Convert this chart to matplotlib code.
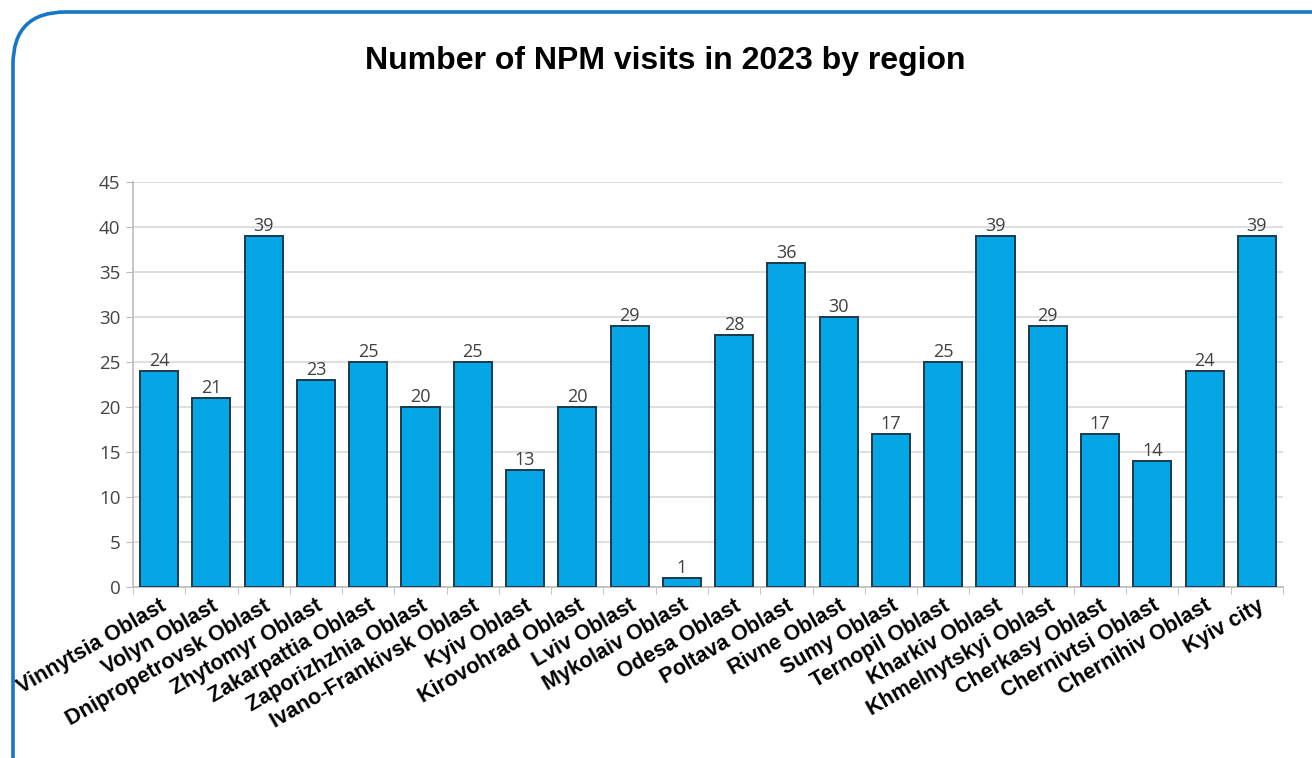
import matplotlib.pyplot as plt
import numpy as np
from matplotlib.patches import FancyBboxPatch

REGIONS = [
    "Vinnytsia Oblast", "Volyn Oblast", "Dnipropetrovsk Oblast", "Zhytomyr Oblast",
    "Zakarpattia Oblast", "Zaporizhzhia Oblast", "Ivano-Frankivsk Oblast", "Kyiv Oblast",
    "Kirovohrad Oblast", "Lviv Oblast", "Mykolaiv Oblast", "Odesa Oblast",
    "Poltava Oblast", "Rivne Oblast", "Sumy Oblast", "Ternopil Oblast",
    "Kharkiv Oblast", "Khmelnytskyi Oblast", "Cherkasy Oblast", "Chernivtsi Oblast",
    "Chernihiv Oblast", "Kyiv city",
]
VISITS = [24, 21, 39, 23, 25, 20, 25, 13, 20, 29, 1, 28, 36, 30, 17, 25, 39, 29, 17, 14, 24, 39]
Y_TICKS = [0, 5, 10, 15, 20, 25, 30, 35, 40, 45]

TITLE = "Number of NPM visits in 2023 by region"
BAR_COLOR = "#04a6e6"
EDGE_COLOR = "#1c3a4c"
FRAME_COLOR = "#1676c8"

W, H = 1312, 758
fig = plt.figure(figsize=(W / 100, H / 100), dpi=100)

# rounded blue frame; its right and bottom edges run off the picture
frame = FancyBboxPatch(
    (13 / W, -0.2), 1.3, 1 - 12 / H + 0.2,
    boxstyle="round,pad=0,rounding_size=0.04",
    transform=fig.transFigure, mutation_aspect=W / H,
    fill=False, ec=FRAME_COLOR, lw=2.6, clip_on=False,
)
fig.patches.append(frame)

fig.text(665 / W, 1 - 61 / H, TITLE, ha="center", va="center",
         fontsize=23, fontweight="bold", family="Liberation Sans")

ax = fig.add_axes([133 / W, 1 - 587 / H, (1283 - 133) / W, (587 - 182) / H])
x = np.arange(len(REGIONS))
ax.bar(x, VISITS, width=0.73, color=BAR_COLOR, edgecolor=EDGE_COLOR,
       linewidth=1.4, zorder=3)

for xi, v in zip(x, VISITS):
    ax.annotate(str(v), (xi, v), xytext=(0, 1), textcoords="offset points",
                ha="center", va="bottom", fontsize=13, color="#404040",
                family="Open Sans", zorder=4)

ax.set_xlim(-0.5, len(REGIONS) - 0.5)
ax.set_ylim(0, 45)
ax.set_yticks(Y_TICKS)
ax.set_yticklabels([str(t) for t in Y_TICKS], fontsize=13.5, color="#444444",
                   family="Open Sans")
ax.yaxis.grid(True, color="#d9d9d9", lw=1.2, zorder=0)
ax.set_axisbelow(True)

ax.set_xticks(x)
ax.set_xticklabels(REGIONS, rotation=30, ha="right", rotation_mode="anchor",
                   fontsize=15.5, fontweight="bold", family="Liberation Sans")
ax.tick_params(axis="x", length=0, pad=6)
ax.set_xticks(np.arange(len(REGIONS) + 1) - 0.5, minor=True)
ax.tick_params(axis="x", which="minor", length=5, color="#bbbbbb")
ax.tick_params(axis="y", length=5, color="#bbbbbb", pad=4)

for side in ["top", "right"]:
    ax.spines[side].set_visible(False)
ax.spines["left"].set_color("#bbbbbb")
ax.spines["bottom"].set_color("#bbbbbb")
ax.spines["left"].set_linewidth(1.2)
ax.spines["bottom"].set_linewidth(1.2)

fig.savefig("out.png", dpi=100)
